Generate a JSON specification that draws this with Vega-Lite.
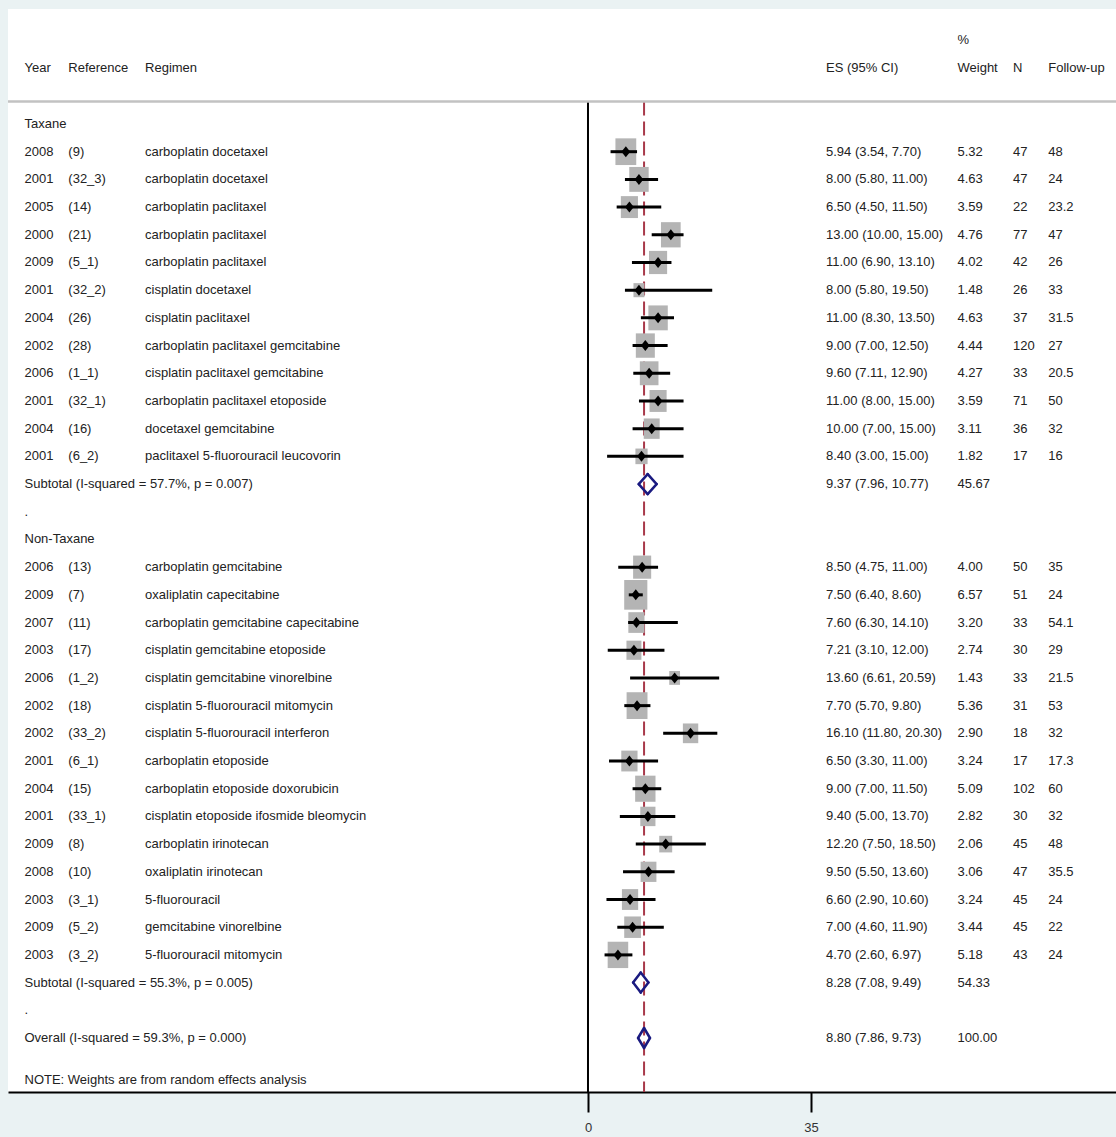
{
  "$schema": "https://vega.github.io/schema/vega-lite/v6.json",
  "width": 1108,
  "height": 1083,
  "autosize": {"type": "none"},
  "padding": {"left": 8, "top": 9, "right": 0, "bottom": 45},
  "background": "#eaf2f3",
  "config": {
    "view": {"stroke": null, "fill": "white"},
    "text": {"font": "Liberation Sans, Arial, sans-serif", "fontSize": 13, "color": "#222222", "align": "left", "baseline": "middle"}
  },
  "datasets": {
    "studies": [
      {"row": 1, "year": "2008", "ref": "(9)", "regimen": "carboplatin docetaxel", "es": 5.94, "lo": 3.54, "hi": 7.70, "esci": "5.94 (3.54, 7.70)", "weight": 5.32, "n": 47, "fu": 48},
      {"row": 2, "year": "2001", "ref": "(32_3)", "regimen": "carboplatin docetaxel", "es": 8.00, "lo": 5.80, "hi": 11.00, "esci": "8.00 (5.80, 11.00)", "weight": 4.63, "n": 47, "fu": 24},
      {"row": 3, "year": "2005", "ref": "(14)", "regimen": "carboplatin paclitaxel", "es": 6.50, "lo": 4.50, "hi": 11.50, "esci": "6.50 (4.50, 11.50)", "weight": 3.59, "n": 22, "fu": 23.2},
      {"row": 4, "year": "2000", "ref": "(21)", "regimen": "carboplatin paclitaxel", "es": 13.00, "lo": 10.00, "hi": 15.00, "esci": "13.00 (10.00, 15.00)", "weight": 4.76, "n": 77, "fu": 47},
      {"row": 5, "year": "2009", "ref": "(5_1)", "regimen": "carboplatin paclitaxel", "es": 11.00, "lo": 6.90, "hi": 13.10, "esci": "11.00 (6.90, 13.10)", "weight": 4.02, "n": 42, "fu": 26},
      {"row": 6, "year": "2001", "ref": "(32_2)", "regimen": "cisplatin docetaxel", "es": 8.00, "lo": 5.80, "hi": 19.50, "esci": "8.00 (5.80, 19.50)", "weight": 1.48, "n": 26, "fu": 33},
      {"row": 7, "year": "2004", "ref": "(26)", "regimen": "cisplatin paclitaxel", "es": 11.00, "lo": 8.30, "hi": 13.50, "esci": "11.00 (8.30, 13.50)", "weight": 4.63, "n": 37, "fu": 31.5},
      {"row": 8, "year": "2002", "ref": "(28)", "regimen": "carboplatin paclitaxel gemcitabine", "es": 9.00, "lo": 7.00, "hi": 12.50, "esci": "9.00 (7.00, 12.50)", "weight": 4.44, "n": 120, "fu": 27},
      {"row": 9, "year": "2006", "ref": "(1_1)", "regimen": "cisplatin paclitaxel gemcitabine", "es": 9.60, "lo": 7.11, "hi": 12.90, "esci": "9.60 (7.11, 12.90)", "weight": 4.27, "n": 33, "fu": 20.5},
      {"row": 10, "year": "2001", "ref": "(32_1)", "regimen": "carboplatin paclitaxel etoposide", "es": 11.00, "lo": 8.00, "hi": 15.00, "esci": "11.00 (8.00, 15.00)", "weight": 3.59, "n": 71, "fu": 50},
      {"row": 11, "year": "2004", "ref": "(16)", "regimen": "docetaxel gemcitabine", "es": 10.00, "lo": 7.00, "hi": 15.00, "esci": "10.00 (7.00, 15.00)", "weight": 3.11, "n": 36, "fu": 32},
      {"row": 12, "year": "2001", "ref": "(6_2)", "regimen": "paclitaxel 5-fluorouracil leucovorin", "es": 8.40, "lo": 3.00, "hi": 15.00, "esci": "8.40 (3.00, 15.00)", "weight": 1.82, "n": 17, "fu": 16},
      {"row": 16, "year": "2006", "ref": "(13)", "regimen": "carboplatin gemcitabine", "es": 8.50, "lo": 4.75, "hi": 11.00, "esci": "8.50 (4.75, 11.00)", "weight": 4.00, "n": 50, "fu": 35},
      {"row": 17, "year": "2009", "ref": "(7)", "regimen": "oxaliplatin capecitabine", "es": 7.50, "lo": 6.40, "hi": 8.60, "esci": "7.50 (6.40, 8.60)", "weight": 6.57, "n": 51, "fu": 24},
      {"row": 18, "year": "2007", "ref": "(11)", "regimen": "carboplatin gemcitabine capecitabine", "es": 7.60, "lo": 6.30, "hi": 14.10, "esci": "7.60 (6.30, 14.10)", "weight": 3.20, "n": 33, "fu": 54.1},
      {"row": 19, "year": "2003", "ref": "(17)", "regimen": "cisplatin gemcitabine etoposide", "es": 7.21, "lo": 3.10, "hi": 12.00, "esci": "7.21 (3.10, 12.00)", "weight": 2.74, "n": 30, "fu": 29},
      {"row": 20, "year": "2006", "ref": "(1_2)", "regimen": "cisplatin gemcitabine vinorelbine", "es": 13.60, "lo": 6.61, "hi": 20.59, "esci": "13.60 (6.61, 20.59)", "weight": 1.43, "n": 33, "fu": 21.5},
      {"row": 21, "year": "2002", "ref": "(18)", "regimen": "cisplatin 5-fluorouracil mitomycin", "es": 7.70, "lo": 5.70, "hi": 9.80, "esci": "7.70 (5.70, 9.80)", "weight": 5.36, "n": 31, "fu": 53},
      {"row": 22, "year": "2002", "ref": "(33_2)", "regimen": "cisplatin 5-fluorouracil interferon", "es": 16.10, "lo": 11.80, "hi": 20.30, "esci": "16.10 (11.80, 20.30)", "weight": 2.90, "n": 18, "fu": 32},
      {"row": 23, "year": "2001", "ref": "(6_1)", "regimen": "carboplatin etoposide", "es": 6.50, "lo": 3.30, "hi": 11.00, "esci": "6.50 (3.30, 11.00)", "weight": 3.24, "n": 17, "fu": 17.3},
      {"row": 24, "year": "2004", "ref": "(15)", "regimen": "carboplatin etoposide doxorubicin", "es": 9.00, "lo": 7.00, "hi": 11.50, "esci": "9.00 (7.00, 11.50)", "weight": 5.09, "n": 102, "fu": 60},
      {"row": 25, "year": "2001", "ref": "(33_1)", "regimen": "cisplatin etoposide ifosmide bleomycin", "es": 9.40, "lo": 5.00, "hi": 13.70, "esci": "9.40 (5.00, 13.70)", "weight": 2.82, "n": 30, "fu": 32},
      {"row": 26, "year": "2009", "ref": "(8)", "regimen": "carboplatin irinotecan", "es": 12.20, "lo": 7.50, "hi": 18.50, "esci": "12.20 (7.50, 18.50)", "weight": 2.06, "n": 45, "fu": 48},
      {"row": 27, "year": "2008", "ref": "(10)", "regimen": "oxaliplatin irinotecan", "es": 9.50, "lo": 5.50, "hi": 13.60, "esci": "9.50 (5.50, 13.60)", "weight": 3.06, "n": 47, "fu": 35.5},
      {"row": 28, "year": "2003", "ref": "(3_1)", "regimen": "5-fluorouracil", "es": 6.60, "lo": 2.90, "hi": 10.60, "esci": "6.60 (2.90, 10.60)", "weight": 3.24, "n": 45, "fu": 24},
      {"row": 29, "year": "2009", "ref": "(5_2)", "regimen": "gemcitabine vinorelbine", "es": 7.00, "lo": 4.60, "hi": 11.90, "esci": "7.00 (4.60, 11.90)", "weight": 3.44, "n": 45, "fu": 22},
      {"row": 30, "year": "2003", "ref": "(3_2)", "regimen": "5-fluorouracil mitomycin", "es": 4.70, "lo": 2.60, "hi": 6.97, "esci": "4.70 (2.60, 6.97)", "weight": 5.18, "n": 43, "fu": 24}
    ],
    "summaries": [
      {"row": 13, "es": 9.37, "lo": 7.96, "hi": 10.77, "esci": "9.37 (7.96, 10.77)", "weight": "45.67"},
      {"row": 31, "es": 8.28, "lo": 7.08, "hi": 9.49, "esci": "8.28 (7.08, 9.49)", "weight": "54.33"},
      {"row": 33, "es": 8.80, "lo": 7.86, "hi": 9.73, "esci": "8.80 (7.86, 9.73)", "weight": "100.00"}
    ],
    "labels": [
      {"row": 0, "label": "Taxane"},
      {"row": 13, "label": "Subtotal  (I-squared = 57.7%, p = 0.007)"},
      {"row": 14, "label": "."},
      {"row": 15, "label": "Non-Taxane"},
      {"row": 31, "label": "Subtotal  (I-squared = 55.3%, p = 0.005)"},
      {"row": 32, "label": "."},
      {"row": 33, "label": "Overall  (I-squared = 59.3%, p = 0.000)"},
      {"row": 34.52, "label": "NOTE: Weights are from random effects analysis"}
    ]
  },
  "layer": [
    {
      "data": {"values": [{}]},
      "mark": {"type": "rule", "color": "#a8394a", "strokeWidth": 2, "strokeDash": [14, 6]},
      "encoding": {
        "x": {"datum": 8.80, "type": "quantitative",
              "scale": {"domain": [-91.04, 82.88], "nice": false, "zero": false},
              "axis": {"values": [0, 35], "title": null, "grid": false, "domainColor": "black", "domainWidth": 2, "tickColor": "black", "tickWidth": 2, "tickSize": 20, "labelFont": "Liberation Sans, Arial, sans-serif", "labelFontSize": 13, "labelColor": "#333333", "labelPadding": 9, "labelFlush": false, "labelOverlap": false}},
        "y": {"datum": -0.81, "type": "quantitative",
              "scale": {"domain": [-4.152, 34.95], "reverse": true, "nice": false, "zero": false},
              "axis": null},
        "y2": {"datum": 34.95}
      }
    },
    {
      "data": {"values": [{}]},
      "mark": {"type": "rule", "color": "black", "strokeWidth": 2},
      "encoding": {
        "x": {"datum": 0, "type": "quantitative"},
        "y": {"datum": -0.81, "type": "quantitative", "axis": null},
        "y2": {"datum": 34.95}
      }
    },
    {
      "data": {"values": [{}]},
      "mark": {"type": "rule", "color": "#c2c2c2", "strokeWidth": 2.5},
      "encoding": {
        "y": {"datum": -0.81, "type": "quantitative", "axis": null}
      }
    },
    {
      "data": {"name": "studies"},
      "mark": {"type": "point", "shape": "M-0.78,-1L0.78,-1L0.78,1L-0.78,1Z", "filled": true, "color": "#b4b4b4", "opacity": 1},
      "encoding": {
        "x": {"field": "es", "type": "quantitative", "title": null},
        "y": {"field": "row", "type": "quantitative", "axis": null},
        "size": {"field": "weight", "type": "quantitative", "scale": {"type": "linear", "domain": [0, 6.57], "range": [0, 880], "zero": true}, "legend": null}
      }
    },
    {
      "data": {"name": "studies"},
      "mark": {"type": "rule", "color": "black", "strokeWidth": 3},
      "encoding": {
        "x": {"field": "lo", "type": "quantitative", "title": null},
        "x2": {"field": "hi"},
        "y": {"field": "row", "type": "quantitative", "axis": null}
      }
    },
    {
      "data": {"name": "studies"},
      "mark": {"type": "point", "shape": "M0,-1L0.8,0L0,1L-0.8,0Z", "filled": true, "color": "black", "opacity": 1, "size": 121},
      "encoding": {
        "x": {"field": "es", "type": "quantitative", "title": null},
        "y": {"field": "row", "type": "quantitative", "axis": null}
      }
    },
    {
      "data": {"name": "summaries"},
      "mark": {"type": "rule", "color": "#1a1a80", "strokeWidth": 2.5, "strokeCap": "round", "y2Offset": -10},
      "encoding": {
        "x": {"field": "lo", "type": "quantitative", "title": null},
        "x2": {"field": "es"},
        "y": {"field": "row", "type": "quantitative", "axis": null},
        "y2": {"field": "row"}
      }
    },
    {
      "data": {"name": "summaries"},
      "mark": {"type": "rule", "color": "#1a1a80", "strokeWidth": 2.5, "strokeCap": "round", "yOffset": -10},
      "encoding": {
        "x": {"field": "es", "type": "quantitative", "title": null},
        "x2": {"field": "hi"},
        "y": {"field": "row", "type": "quantitative", "axis": null},
        "y2": {"field": "row"}
      }
    },
    {
      "data": {"name": "summaries"},
      "mark": {"type": "rule", "color": "#1a1a80", "strokeWidth": 2.5, "strokeCap": "round", "y2Offset": 10},
      "encoding": {
        "x": {"field": "hi", "type": "quantitative", "title": null},
        "x2": {"field": "es"},
        "y": {"field": "row", "type": "quantitative", "axis": null},
        "y2": {"field": "row"}
      }
    },
    {
      "data": {"name": "summaries"},
      "mark": {"type": "rule", "color": "#1a1a80", "strokeWidth": 2.5, "strokeCap": "round", "yOffset": 10},
      "encoding": {
        "x": {"field": "es", "type": "quantitative", "title": null},
        "x2": {"field": "lo"},
        "y": {"field": "row", "type": "quantitative", "axis": null},
        "y2": {"field": "row"}
      }
    },
    {
      "data": {"name": "studies"},
      "mark": {"type": "text"},
      "encoding": {
        "x": {"datum": -88.45, "type": "quantitative"},
        "y": {"field": "row", "type": "quantitative", "axis": null},
        "text": {"field": "year"}
      }
    },
    {
      "data": {"name": "studies"},
      "mark": {"type": "text"},
      "encoding": {
        "x": {"datum": -81.57, "type": "quantitative"},
        "y": {"field": "row", "type": "quantitative", "axis": null},
        "text": {"field": "ref"}
      }
    },
    {
      "data": {"name": "studies"},
      "mark": {"type": "text"},
      "encoding": {
        "x": {"datum": -69.53, "type": "quantitative"},
        "y": {"field": "row", "type": "quantitative", "axis": null},
        "text": {"field": "regimen"}
      }
    },
    {
      "data": {"name": "studies"},
      "mark": {"type": "text"},
      "encoding": {
        "x": {"datum": 37.36, "type": "quantitative"},
        "y": {"field": "row", "type": "quantitative", "axis": null},
        "text": {"field": "esci"}
      }
    },
    {
      "data": {"name": "studies"},
      "mark": {"type": "text"},
      "encoding": {
        "x": {"datum": 58.0, "type": "quantitative"},
        "y": {"field": "row", "type": "quantitative", "axis": null},
        "text": {"field": "weight", "type": "quantitative", "format": ".2f"}
      }
    },
    {
      "data": {"name": "studies"},
      "mark": {"type": "text"},
      "encoding": {
        "x": {"datum": 66.71, "type": "quantitative"},
        "y": {"field": "row", "type": "quantitative", "axis": null},
        "text": {"field": "n", "type": "quantitative", "format": "d"}
      }
    },
    {
      "data": {"name": "studies"},
      "mark": {"type": "text"},
      "encoding": {
        "x": {"datum": 72.25, "type": "quantitative"},
        "y": {"field": "row", "type": "quantitative", "axis": null},
        "text": {"field": "fu", "type": "quantitative"}
      }
    },
    {
      "data": {"name": "labels"},
      "mark": {"type": "text"},
      "encoding": {
        "x": {"datum": -88.45, "type": "quantitative"},
        "y": {"field": "row", "type": "quantitative", "axis": null},
        "text": {"field": "label"}
      }
    },
    {
      "data": {"name": "summaries"},
      "mark": {"type": "text"},
      "encoding": {
        "x": {"datum": 37.36, "type": "quantitative"},
        "y": {"field": "row", "type": "quantitative", "axis": null},
        "text": {"field": "esci"}
      }
    },
    {
      "data": {"name": "summaries"},
      "mark": {"type": "text"},
      "encoding": {
        "x": {"datum": 58.0, "type": "quantitative"},
        "y": {"field": "row", "type": "quantitative", "axis": null},
        "text": {"field": "weight"}
      }
    },
    {
      "data": {"values": [{"h": "Year"}]},
      "mark": {"type": "text"},
      "encoding": {"x": {"datum": -88.45, "type": "quantitative"}, "y": {"datum": -2.02, "type": "quantitative", "axis": null}, "text": {"field": "h"}}
    },
    {
      "data": {"values": [{"h": "Reference"}]},
      "mark": {"type": "text"},
      "encoding": {"x": {"datum": -81.57, "type": "quantitative"}, "y": {"datum": -2.02, "type": "quantitative", "axis": null}, "text": {"field": "h"}}
    },
    {
      "data": {"values": [{"h": "Regimen"}]},
      "mark": {"type": "text"},
      "encoding": {"x": {"datum": -69.53, "type": "quantitative"}, "y": {"datum": -2.02, "type": "quantitative", "axis": null}, "text": {"field": "h"}}
    },
    {
      "data": {"values": [{"h": "ES (95% CI)"}]},
      "mark": {"type": "text"},
      "encoding": {"x": {"datum": 37.36, "type": "quantitative"}, "y": {"datum": -2.02, "type": "quantitative", "axis": null}, "text": {"field": "h"}}
    },
    {
      "data": {"values": [{"h": "%"}]},
      "mark": {"type": "text"},
      "encoding": {"x": {"datum": 58.0, "type": "quantitative"}, "y": {"datum": -3.03, "type": "quantitative", "axis": null}, "text": {"field": "h"}}
    },
    {
      "data": {"values": [{"h": "Weight"}]},
      "mark": {"type": "text"},
      "encoding": {"x": {"datum": 58.0, "type": "quantitative"}, "y": {"datum": -2.02, "type": "quantitative", "axis": null}, "text": {"field": "h"}}
    },
    {
      "data": {"values": [{"h": "N"}]},
      "mark": {"type": "text"},
      "encoding": {"x": {"datum": 66.71, "type": "quantitative"}, "y": {"datum": -2.02, "type": "quantitative", "axis": null}, "text": {"field": "h"}}
    },
    {
      "data": {"values": [{"h": "Follow-up"}]},
      "mark": {"type": "text"},
      "encoding": {"x": {"datum": 72.25, "type": "quantitative"}, "y": {"datum": -2.02, "type": "quantitative", "axis": null}, "text": {"field": "h"}}
    }
  ]
}
